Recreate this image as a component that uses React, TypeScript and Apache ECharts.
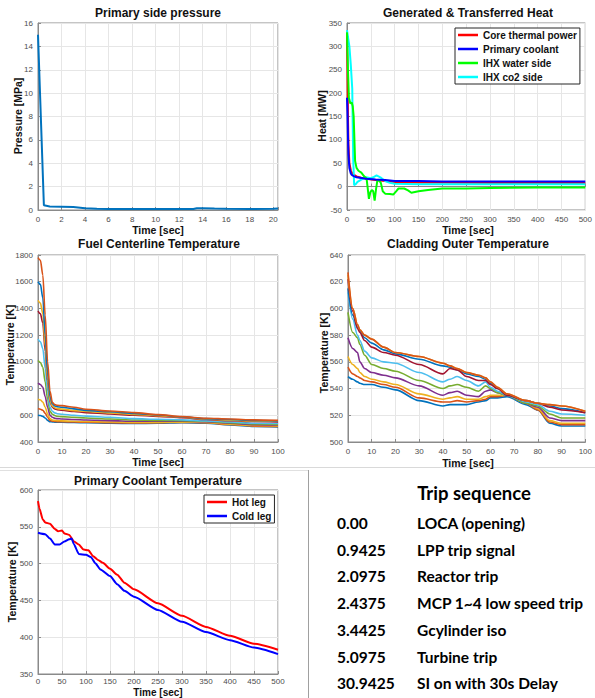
import React, { useEffect, useRef } from 'react';
import * as echarts from 'echarts';

// ---------- Data ----------
const pressureTime = [0, 0.5, 1, 2, 3, 4, 5, 6, 8, 10, 12, 13.2, 13.5, 14, 15, 16, 18, 20, 20.4];
const pressureMPa = [15, 0.4, 0.3, 0.28, 0.25, 0.15, 0.1, 0.08, 0.08, 0.08, 0.08, 0.08, 0.15, 0.15, 0.12, 0.1, 0.08, 0.1, 0.12];

const heatNames = ['Core thermal power', 'Primary coolant', 'IHX water side', 'IHX co2 side'];
const coreTime = [0, 1, 2, 3, 5, 8, 10, 15, 20, 30, 40, 60, 80, 100, 150, 200, 300, 400, 500];
const coreMW = [330, 250, 150, 90, 50, 35, 30, 25, 22, 19, 17, 14, 12, 10, 9, 9, 8, 8, 8];
const primTime = [0, 1, 2, 3, 5, 8, 10, 15, 20, 40, 60, 80, 90, 100, 150, 200, 300, 400, 500];
const primMW = [190, 160, 110, 70, 40, 28, 25, 22, 20, 17, 15, 14, 13, 12, 12, 11, 11, 11, 11];
const waterTime = [0, 2, 4, 7, 10, 12, 14, 17, 20, 24, 30, 36, 41, 46, 49, 52, 55, 58, 61, 64, 68, 71, 75, 80, 90, 97, 103, 108, 120, 128, 135, 150, 170, 200, 250, 300, 400, 500];
const waterMW = [330, 250, 190, 178, 180, 172, 150, 55, 40, 34, 30, 22, 18, -26, -12, -7, -10, -30, -5, 15, 12, 8, -10, -15, -16, -17, -10, -4, -4, -8, -13, -10, -7, -4, -4, -3, -2, -2];
const co2Time = [0, 2, 5, 8, 11, 13, 15, 18, 22, 30, 40, 50, 55, 62, 70, 80, 90, 100, 150, 300, 500];
const co2MW = [335, 320, 300, 260, 210, 60, 3, 5, 10, 15, 20, 18, 20, 24, 20, 12, 8, 6, 5, 5, 5];

const fuelTime = [0, 1, 2, 3, 4, 5, 6, 7, 8, 10, 15, 20, 30, 40, 50, 60, 70, 80, 90, 100];
const fuelK = [
  [600, 598, 592, 580, 562, 552, 550, 549, 548, 548, 546, 544, 541, 538, 540, 544, 541, 528, 516, 513],
  [650, 645, 638, 615, 585, 562, 556, 554, 552, 552, 550, 548, 545, 542, 544, 547, 544, 531, 519, 516],
  [720, 715, 700, 660, 610, 575, 565, 562, 560, 558, 555, 553, 550, 547, 547, 549, 547, 534, 523, 520],
  [840, 830, 810, 740, 660, 600, 585, 578, 575, 572, 568, 565, 560, 555, 555, 555, 552, 540, 530, 527],
  [1010, 995, 960, 850, 720, 630, 608, 598, 593, 590, 585, 580, 572, 565, 562, 560, 555, 545, 535, 532],
  [1170, 1150, 1100, 950, 780, 660, 630, 618, 612, 608, 600, 594, 585, 575, 570, 566, 558, 550, 540, 538],
  [1380, 1360, 1290, 1080, 850, 700, 660, 648, 642, 638, 628, 620, 610, 600, 592, 582, 568, 560, 553, 550],
  [1460, 1440, 1360, 1120, 870, 710, 668, 656, 650, 646, 635, 628, 618, 607, 597, 585, 572, 563, 557, 555],
  [1600, 1580, 1480, 1200, 920, 740, 685, 670, 664, 660, 648, 637, 626, 614, 602, 588, 575, 568, 561, 558],
  [1780, 1760, 1650, 1350, 1000, 780, 695, 680, 675, 672, 660, 645, 632, 620, 605, 590, 578, 572, 566, 562],
];

const cladTime = [0, 2, 4, 5, 7, 10, 15, 20, 30, 40, 43, 46, 50, 55, 58, 60, 63, 67, 75, 80, 85, 90, 100];
const cladK = [
  [549, 547, 545, 544, 543, 543, 541, 539, 531, 527, 528, 528, 528, 530, 531, 533, 533, 534, 528, 524, 514, 512, 512],
  [556, 551, 549, 548, 546, 545, 543, 541, 533, 530, 530, 531, 530, 531, 532, 534, 534, 535, 529, 524, 515, 513, 513],
  [564, 558, 555, 552, 549, 547, 545, 543, 536, 532, 533, 534, 532, 532, 534, 535, 535, 535, 529, 525, 516, 514, 514],
  [578, 570, 567, 560, 555, 552, 550, 548, 542, 535, 537, 538, 535, 534, 538, 539, 537, 535, 529, 526, 518, 516, 516],
  [597, 582, 578, 573, 565, 558, 555, 553, 546, 540, 542, 543, 541, 538, 542, 540, 537, 535, 529, 527, 521, 518, 518],
  [612, 592, 580, 576, 568, 563, 560, 559, 552, 545, 547, 549, 546, 542, 545, 541, 538, 535, 530, 528, 523, 521, 520],
  [615, 595, 586, 583, 578, 574, 569, 566, 562, 557, 556, 554, 551, 549, 547, 544, 540, 535, 531, 529, 527, 525, 522],
  [622, 598, 585, 582, 576, 571, 567, 565, 558, 551, 555, 554, 549, 546, 546, 543, 540, 535, 531, 529, 526, 524, 522],
  [625, 600, 588, 584, 580, 577, 571, 567, 564, 559, 557, 555, 552, 550, 548, 545, 541, 536, 531, 529, 528, 527, 523],
  [627, 600, 588, 584, 580, 577, 571, 567, 564, 559, 557, 555, 552, 550, 548, 545, 541, 536, 531, 529, 528, 527, 523],
];

const legNames = ['Hot leg', 'Cold leg'];
const hotTime = [0, 3, 10, 15, 25, 35, 42, 50, 55, 65, 75, 85, 95, 105, 115, 125, 135, 150, 165, 180, 200, 250, 300, 350, 400, 450, 500];
const hotK = [585, 575, 560, 556, 554, 547, 544, 545, 541, 539, 530, 526, 519, 518, 510, 505, 501, 493, 485, 474, 465, 446, 429, 414, 402, 391, 383];
const coldTime = [0, 15, 25, 35, 45, 55, 65, 70, 75, 85, 100, 110, 120, 130, 150, 165, 180, 200, 250, 300, 350, 400, 450, 500];
const coldK = [542, 540, 534, 526, 526, 530, 533, 534, 526, 513, 512, 509, 500, 492, 483, 472, 463, 455, 437, 421, 407, 396, 386, 377];

const tripTimes = ['0.00', '0.9425', '2.0975', '2.4375', '3.4425', '5.0975', '30.9425'];
const tripEvents = ['LOCA (opening)', 'LPP trip signal', 'Reactor trip', 'MCP 1~4 low speed trip', 'Gcylinder iso', 'Turbine trip', 'SI on with 30s Delay'];

// ---------- Styles ----------
const M = { blue: '#0072BD', orange: '#D95319', yellow: '#EDB120', purple: '#7E2F8E', green: '#77AC30', cyan: '#4DBEEE', red: '#A2142F' };
const fuelColors = [M.blue, M.orange, M.yellow, M.purple, M.green, M.cyan, M.red, M.yellow, M.blue, M.orange];
const cladColors = [M.blue, M.orange, M.yellow, M.purple, M.green, M.cyan, M.blue, M.red, M.yellow, M.orange];
const heatColors = ['#FF0000', '#0000FF', '#00FF00', '#00FFFF'];
const legColors = ['#FF0000', '#0000FF'];

const FONT = '"Liberation Sans", Arial, sans-serif';
const TRIP_FONT = 'Lato, sans-serif';
const zip = (a: number[], b: number[]) => a.map((x, i) => [x, b[i]]);

const grids = [
  { left: 38, top: 23, width: 240, height: 187 },
  { left: 347, top: 23, width: 241, height: 187 },
  { left: 38, top: 255, width: 240, height: 187 },
  { left: 348, top: 255, width: 240, height: 187 },
  { left: 38, top: 490, width: 240, height: 184 },
];

const axisCommon = {
  axisLine: { show: true, lineStyle: { color: '#8a8a8a', width: 1 } },
  axisTick: { show: true, inside: true, length: 3, lineStyle: { color: '#8a8a8a' } },
  splitLine: { show: true, lineStyle: { color: '#e6e6e6', width: 1 } },
};
function mkX(gi: number, min: number, max: number, interval: number, margin = 5) {
  return {
    type: 'value', gridIndex: gi, min, max, interval, ...axisCommon,
    axisLabel: {
      color: '#4d4d4d', fontSize: 8, fontFamily: FONT, margin,
      formatter: (v: number) => (Math.abs(v / interval - Math.round(v / interval)) < 1e-6 ? String(v) : ''),
    },
  };
}
function mkY(gi: number, min: number, max: number, interval: number) {
  return {
    type: 'value', gridIndex: gi, min, max, interval, ...axisCommon,
    axisLabel: { color: '#4d4d4d', fontSize: 8, fontFamily: FONT, margin: 5, formatter: (v: number) => String(v) },
  };
}

function line(name: string, data: number[][], idx: number, color: string, width: number, smooth: number | boolean = false) {
  return {
    type: 'line', name, data, xAxisIndex: idx, yAxisIndex: idx, showSymbol: false, symbol: 'none',
    smooth, smoothMonotone: 'x', lineStyle: { color, width }, itemStyle: { color }, emphasis: { disabled: true }, z: 3,
  };
}

function txt(text: string, x: number, y: number, size: number, opts: any = {}) {
  return {
    type: 'text', x, y, rotation: opts.rot || 0, z: 10,
    style: {
      text, fill: opts.fill || '#111', font: `${opts.weight || 'bold'} ${size}px ${opts.family || FONT}`,
      textAlign: opts.align || 'center', textVerticalAlign: 'middle',
    },
  };
}

export default function App() {
  const ref = useRef<HTMLDivElement>(null);
  useEffect(() => {
    if (!ref.current) return;
    const chart = echarts.init(ref.current, undefined, { renderer: 'svg' });

    const series: any[] = [];
    series.push(line('Pressure', zip(pressureTime, pressureMPa), 0, M.blue, 2));
    series.push(line(heatNames[0], zip(coreTime, coreMW), 1, heatColors[0], 2));
    series.push(line(heatNames[3], zip(co2Time, co2MW), 1, heatColors[3], 2));
    series.push(line(heatNames[2], zip(waterTime, waterMW), 1, heatColors[2], 2));
    series.push(line(heatNames[1], zip(primTime, primMW), 1, heatColors[1], 2));
    fuelK.forEach((v, i) => series.push(line('fuel' + i, zip(fuelTime, v), 2, fuelColors[i], 1.6, 0.3)));
    cladK.forEach((v, i) => series.push(line('clad' + i, zip(cladTime, v), 3, cladColors[i], 1.6, 0.3)));
    series.push(line(legNames[0], zip(hotTime, hotK), 4, legColors[0], 2, 0.2));
    series.push(line(legNames[1], zip(coldTime, coldK), 4, legColors[1], 2, 0.2));

    const legendCommon = {
      orient: 'vertical', backgroundColor: '#fff', borderColor: '#262626', borderWidth: 1,
      icon: 'rect', itemWidth: 20, itemHeight: 2.5, itemGap: 2, padding: [1, 3, 1, 3], selectedMode: false,
      textStyle: { fontFamily: FONT, fontSize: 10, fontWeight: 'bold', color: '#111', lineHeight: 12 },
    };

    const graphic: any[] = [
      txt('Primary side pressure', 158, 13, 12),
      txt('Generated & Transferred Heat', 468, 13, 12),
      txt('Fuel Centerline Temperature', 159, 244, 12),
      txt('Cladding Outer Temperature', 468, 244, 12),
      txt('Primary Coolant Temperature', 158, 481, 12),
      txt('Time [sec]', 158, 230, 10.5),
      txt('Time [sec]', 468, 230, 10.5),
      txt('Time [sec]', 158, 462, 10.5),
      txt('Time [sec]', 468, 463, 10.5),
      txt('Time [sec]', 158, 692.5, 10),
      txt('Pressure [MPa]', 18, 116, 10.5, { rot: Math.PI / 2 }),
      txt('Heat [MW]', 322, 116, 10.5, { rot: Math.PI / 2 }),
      txt('Temperature [K]', 10, 345, 10.5, { rot: Math.PI / 2 }),
      txt('Temperature [K]', 324, 353, 10.5, { rot: Math.PI / 2 }),
      txt('Temperature [K]', 12, 582, 10.5, { rot: Math.PI / 2 }),
      { type: 'line', shape: { x1: 0, y1: 467.5, x2: 595, y2: 467.5 }, style: { stroke: '#d9d9d9', lineWidth: 1 } },
      { type: 'line', shape: { x1: 0, y1: 470.5, x2: 308, y2: 470.5 }, style: { stroke: '#e0e0e0', lineWidth: 1 } },
      { type: 'line', shape: { x1: 308.5, y1: 470, x2: 308.5, y2: 698 }, style: { stroke: '#a0a0a0', lineWidth: 1 } },
      txt('Trip sequence', 474, 493, 18.5, { family: TRIP_FONT, weight: 'bold', fill: '#000' }),
    ];
    tripTimes.forEach((t, i) => {
      const y = 523 + i * 26.7;
      graphic.push(txt(t, 337, y, 15.5, { family: TRIP_FONT, weight: 'bold', align: 'left', fill: '#000' }));
      graphic.push(txt(tripEvents[i], 417, y, 15.5, { family: TRIP_FONT, weight: 'bold', align: 'left', fill: '#000' }));
    });

    chart.setOption({
      animation: false,
      backgroundColor: '#fff',
      grid: grids.map((g) => ({ ...g, show: true, borderColor: '#8a8a8a', borderWidth: 1, backgroundColor: '#fff', containLabel: false })),
      xAxis: [mkX(0, 0, 20.4, 2), mkX(1, 0, 500, 50), mkX(2, 0, 100, 10), mkX(3, 0, 100, 10), mkX(4, 0, 500, 50, 3)],
      yAxis: [mkY(0, 0, 16, 2), mkY(1, -50, 350, 50), mkY(2, 400, 1800, 200), mkY(3, 500, 640, 20), mkY(4, 350, 600, 50)],
      legend: [
        { ...legendCommon, left: 455, top: 28, data: heatNames },
        { ...legendCommon, left: 204, top: 495, data: legNames },
      ],
      series,
      graphic,
    });
    return () => chart.dispose();
  }, []);
  return <div ref={ref} style={{ position: 'absolute', left: 0, top: 0, width: 595, height: 698 }} />;
}
